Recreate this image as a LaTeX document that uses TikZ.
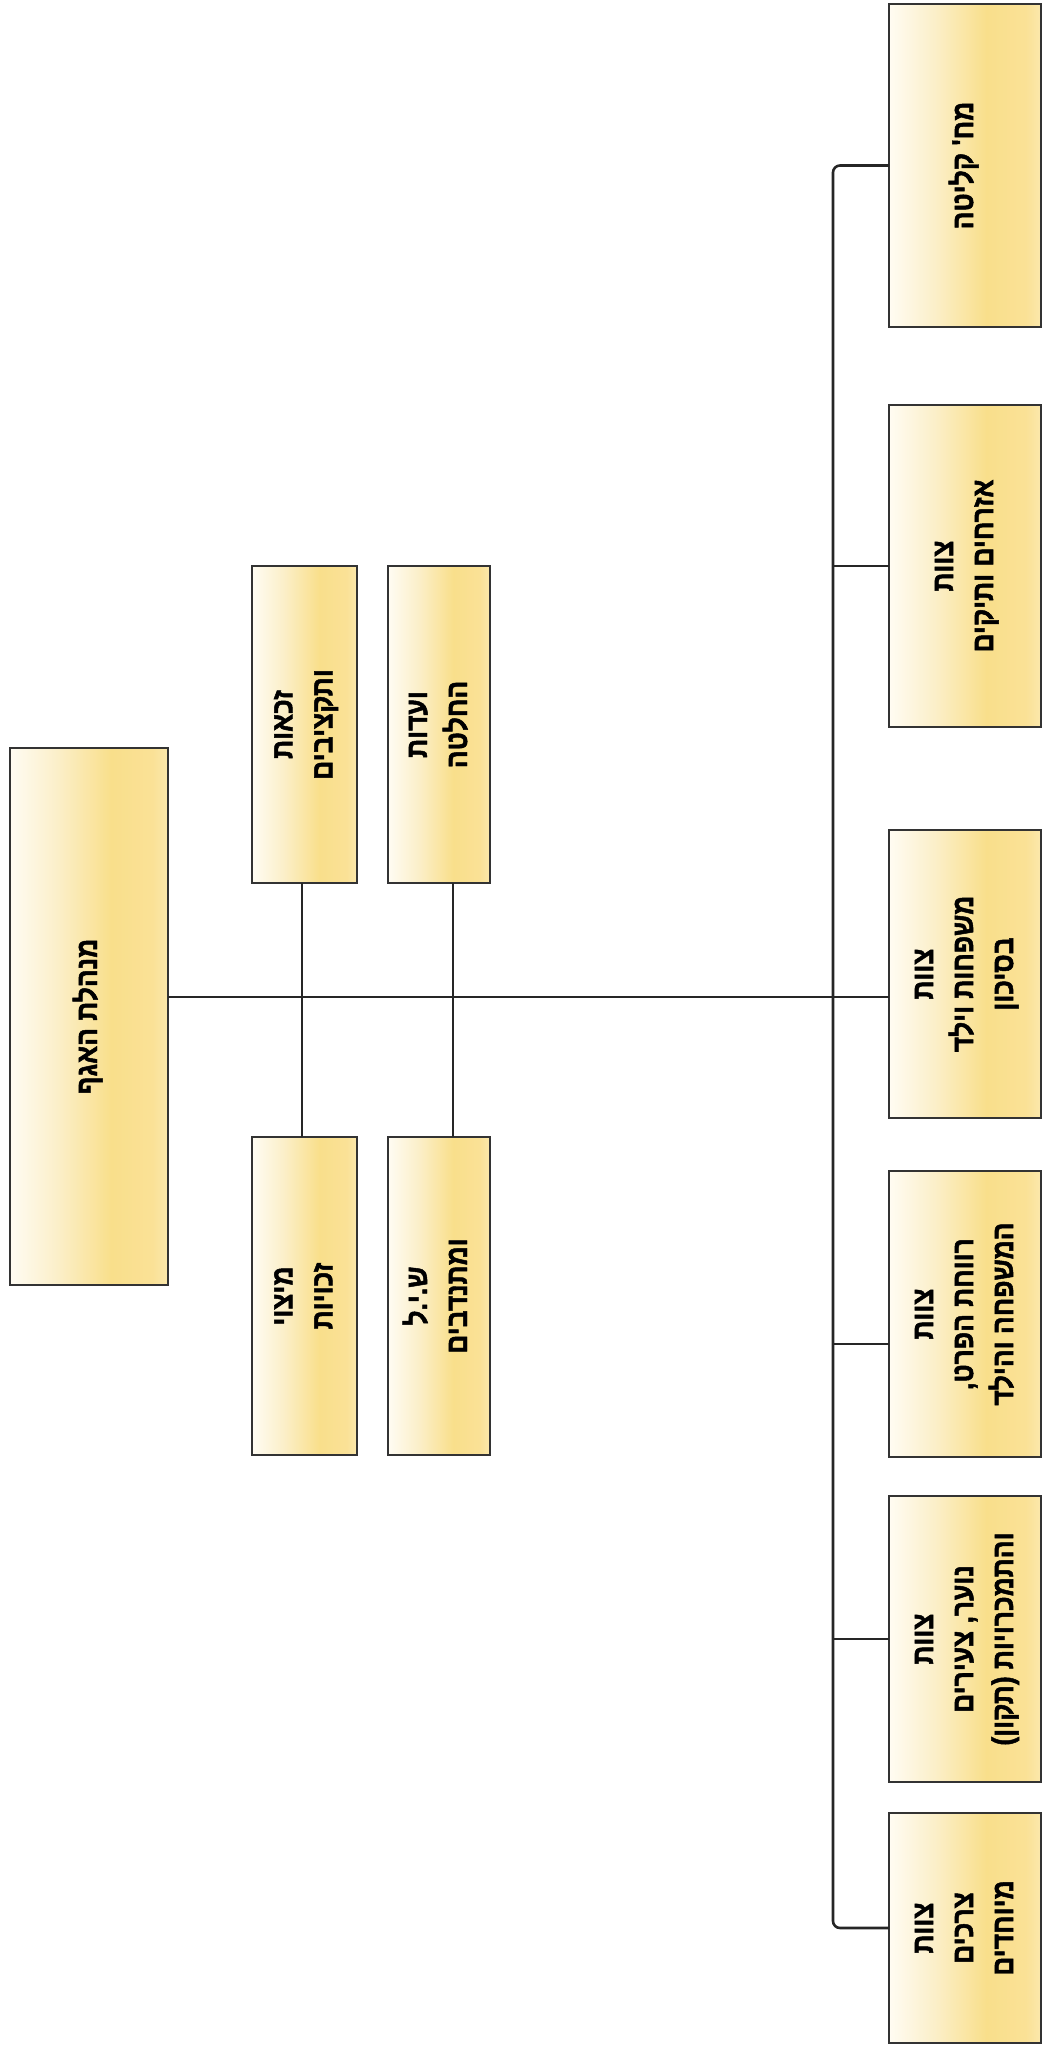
\documentclass[tikz,border=0pt]{standalone}
\usepackage{fontspec}
\usepackage{graphicx}
\TeXXeTstate=1
\newfontfamily\hebfont[Script=Hebrew,FakeStretch=0.88,BoldFeatures={FakeBold=1.6}]{Liberation Sans}
\definecolor{gA}{HTML}{FFFCF3}
\definecolor{gB}{HTML}{FBEFC9}
\definecolor{gC}{HTML}{F9DF8B}
\definecolor{gD}{HTML}{FAE196}
\definecolor{gE}{HTML}{FBE8AC}
\definecolor{boxline}{HTML}{333333}
\definecolor{connline}{HTML}{262626}
\pgfdeclarehorizontalshading{boxgrad}{100bp}{color(0bp)=(gA); color(25bp)=(gA); color(40bp)=(gB); color(57bp)=(gC); color(70bp)=(gD); color(75bp)=(gE); color(100bp)=(gE)}
\newcommand{\hb}[1]{\beginR #1\endR}
\newcommand{\boxtext}[1]{\rotatebox{90}{\hebfont\bfseries\fontsize{30}{40}\selectfont\begin{tabular}{@{}c@{}}#1\end{tabular}}}
\tikzset{
  orgbox/.style={draw=boxline, line width=2pt, shading=boxgrad, inner sep=0pt, outer sep=0pt, text=black},
  conn/.style={draw=connline, line width=2.6pt}
}
\begin{document}
\begin{tikzpicture}[x=1pt,y=-1pt]
\useasboundingbox (0,0) rectangle (1043,2046);
% head
\node[orgbox, minimum width=158pt, minimum height=537pt] (head) at (89,1016.5) {\boxtext{\hb{מנהלת האגף}}};
% middle boxes
\node[orgbox, minimum width=105pt, minimum height=317pt] (zA) at (304.5,724.5) {\boxtext{\hb{זכאות}\\ \hb{ותקציבים}}};
\node[orgbox, minimum width=102pt, minimum height=317pt] (vB) at (439,724.5) {\boxtext{\hb{ועדות}\\ \hb{החלטה}}};
\node[orgbox, minimum width=105pt, minimum height=318pt] (mC) at (304.5,1296) {\boxtext{\hb{מיצוי}\\ \hb{זכויות}}};
\node[orgbox, minimum width=102pt, minimum height=318pt] (sD) at (439,1296) {\boxtext{\hb{ש.י.ל}\\ \hb{ומתנדבים}}};
% bottom row (right column)
\node[orgbox, minimum width=152pt, minimum height=323pt] (b1) at (965,165.5) {\boxtext{\hb{מח' קליטה}}};
\node[orgbox, minimum width=152pt, minimum height=322pt] (b2) at (965,566) {\boxtext{\hb{צוות}\\ \hb{אזרחים ותיקים}}};
\node[orgbox, minimum width=152pt, minimum height=288pt] (b3) at (965,974) {\boxtext{\hb{צוות}\\ \hb{משפחות וילד}\\ \hb{בסיכון}}};
\node[orgbox, minimum width=152pt, minimum height=286pt] (b4) at (965,1314) {\boxtext{\hb{צוות}\\ \hb{רווחת הפרט,}\\ \hb{המשפחה והילד}}};
\node[orgbox, minimum width=152pt, minimum height=286pt] (b5) at (965,1639) {\boxtext{\hb{צוות}\\ \hb{נוער, צעירים}\\ \hb{והתמכרויות (תקון)}}};
\node[orgbox, minimum width=152pt, minimum height=230pt] (b6) at (965,1928) {\boxtext{\hb{צוות}\\ \hb{צרכים}\\ \hb{מיוחדים}}};
% coordinates
\coordinate (trunk) at (833,997);
\coordinate (mainY) at (0,997);
\coordinate (lA) at (302,0);
\coordinate (lB) at (453,0);
\coordinate (y4) at (0,1344);
% connectors
\draw[conn] (head.east |- mainY) -- (b3.west |- mainY);
\draw[conn] (zA.south -| lA) -- (mC.north -| lA);
\draw[conn] (vB.south -| lB) -- (sD.north -| lB);
\draw[conn, rounded corners=7pt] (b1.west) -| (trunk) |- (b6.west);
\draw[conn] (trunk |- b2.west) -- (b2.west);
\draw[conn] (trunk |- y4) -- (b4.west |- y4);
\draw[conn] (trunk |- b5.west) -- (b5.west);
\end{tikzpicture}
\end{document}
